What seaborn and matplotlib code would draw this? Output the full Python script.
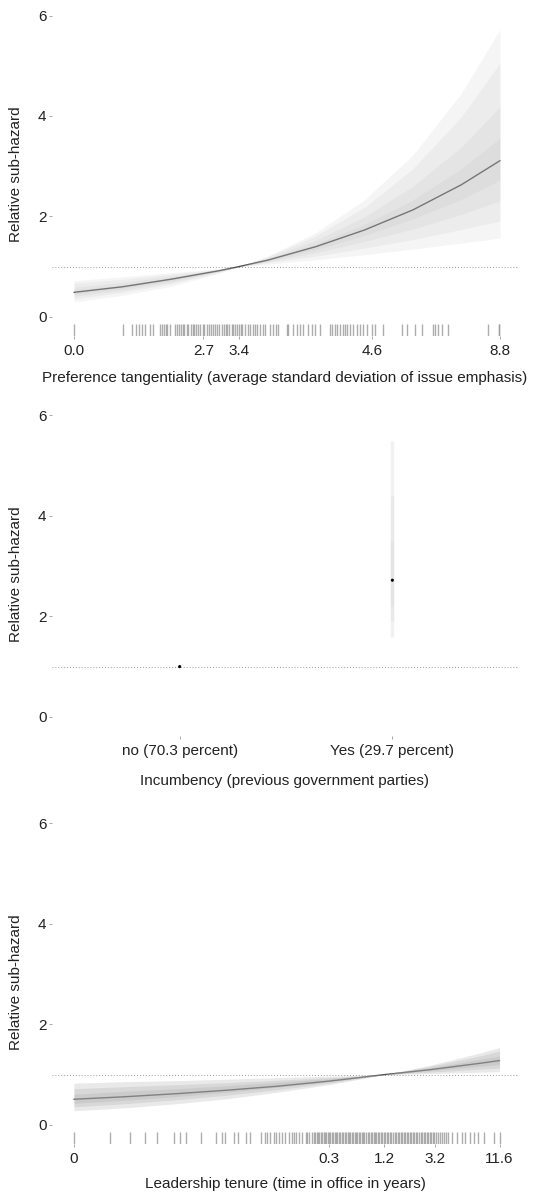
import matplotlib
matplotlib.use("Agg")
import matplotlib.pyplot as plt
import pandas as pd
import seaborn as sns

# ---- panel 1: preference tangentiality ----
tang_x = [0.0, 1.0, 2.0, 3.0, 3.4, 4.0, 5.0, 6.0, 7.0, 8.0, 8.8]
tang_hr = [0.49, 0.60, 0.75, 0.92, 1.0, 1.13, 1.40, 1.73, 2.13, 2.63, 3.11]
# simulation fan, outer to inner: (lower, upper)
tang_bands = [
    ([0.30, 0.43, 0.61, 0.87, 1.0, 1.05, 1.14, 1.24, 1.35, 1.47, 1.57],
     [0.72, 0.80, 0.88, 0.96, 1.0, 1.21, 1.68, 2.33, 3.22, 4.45, 5.72]),
    ([0.36, 0.49, 0.66, 0.89, 1.0, 1.08, 1.21, 1.37, 1.54, 1.74, 1.91],
     [0.67, 0.75, 0.85, 0.95, 1.0, 1.20, 1.62, 2.18, 2.95, 3.98, 5.05]),
    ([0.41, 0.53, 0.69, 0.90, 1.0, 1.10, 1.28, 1.50, 1.75, 2.04, 2.31],
     [0.59, 0.69, 0.81, 0.94, 1.0, 1.17, 1.53, 1.99, 2.60, 3.38, 4.18]),
    ([0.45, 0.57, 0.72, 0.91, 1.0, 1.12, 1.34, 1.62, 1.95, 2.34, 2.72],
     [0.53, 0.64, 0.77, 0.93, 1.0, 1.15, 1.46, 1.84, 2.33, 2.95, 3.56]),
]
tang_rug = [0.0, 1.02, 1.19, 1.28, 1.35, 1.40, 1.47, 1.56, 1.64, 1.78, 1.81,
            1.85, 1.90, 1.93, 1.98, 2.09, 2.12, 2.16, 2.20, 2.25, 2.27, 2.33,
            2.36, 2.41, 2.45, 2.48, 2.52, 2.57, 2.60, 2.66, 2.69, 2.74, 2.78,
            2.82, 2.87, 2.91, 2.95, 3.00, 3.05, 3.10, 3.13, 3.17, 3.21, 3.26,
            3.29, 3.33, 3.36, 3.41, 3.44, 3.48, 3.53, 3.60, 3.64, 3.69, 3.74,
            3.79, 3.84, 3.90, 3.95, 4.05, 4.12, 4.17, 4.22, 4.39, 4.43, 4.53,
            4.60, 4.67, 4.74, 4.84, 4.91, 4.98, 5.08, 5.29, 5.34, 5.39, 5.44,
            5.50, 5.55, 5.60, 5.65, 5.70, 5.77, 5.84, 5.91, 5.98, 6.05, 6.15,
            6.22, 6.39, 6.77, 6.87, 7.05, 7.18, 7.41, 7.46, 7.53, 7.60, 7.73,
            8.56, 8.77, 8.79]
tang_ticks = [0.0, 2.67, 3.41, 6.16, 8.8]
tang_ticklabels = ["0.0", "2.7", "3.4", "4.6", "8.8"]

# ---- panel 2: incumbency ----
incumb_pos = [0, 1]
incumb_labels = ["no (70.3 percent)", "Yes (29.7 percent)"]
incumb_hr = [1.0, 2.72]
incumb_bands = [(1.58, 5.50), (1.90, 4.40), (2.20, 3.50)]  # for "Yes"

# ---- panel 3: leadership tenure (log scale of days in office) ----
tenure_x = [0.0, 1.0, 2.0, 3.0, 4.0, 5.0, 6.09, 7.0, 8.0, 8.35]
tenure_hr = [0.51, 0.56, 0.62, 0.69, 0.77, 0.87, 1.0, 1.10, 1.23, 1.28]
tenure_bands = [
    ([0.28, 0.34, 0.42, 0.52, 0.65, 0.80, 1.0, 1.02, 1.05, 1.06],
     [0.83, 0.86, 0.88, 0.91, 0.94, 0.97, 1.0, 1.19, 1.44, 1.54]),
    ([0.36, 0.42, 0.50, 0.59, 0.70, 0.83, 1.0, 1.05, 1.11, 1.13],
     [0.72, 0.76, 0.80, 0.84, 0.89, 0.94, 1.0, 1.17, 1.38, 1.47]),
    ([0.43, 0.49, 0.56, 0.65, 0.75, 0.86, 1.0, 1.08, 1.17, 1.20],
     [0.61, 0.67, 0.72, 0.78, 0.85, 0.92, 1.0, 1.14, 1.31, 1.37]),
]
tenure_rug = [0.0, 0.70, 1.10, 1.40, 1.62, 1.96, 2.08, 2.20, 2.50, 2.78, 2.90,
              2.96, 3.15, 3.22, 3.38, 3.45, 3.68, 3.74, 3.78, 3.85, 3.92, 3.96,
              4.02, 4.08, 4.15, 4.22, 4.27, 4.32, 4.35, 4.42, 4.48, 4.55, 4.58,
              4.62, 4.68, 4.71, 4.73, 4.76, 4.79, 4.81, 4.84, 4.87, 4.90, 4.92,
              4.95, 4.98, 5.01, 5.03, 5.06, 5.09, 5.12, 5.14, 5.17, 5.20, 5.23,
              5.25, 5.28, 5.31, 5.34, 5.37, 5.40, 5.42, 5.45, 5.48, 5.51, 5.54,
              5.56, 5.59, 5.62, 5.65, 5.68, 5.70, 5.73, 5.76, 5.79, 5.82, 5.85,
              5.88, 5.90, 5.93, 5.96, 5.99, 6.02, 6.05, 6.08, 6.11, 6.14, 6.17,
              6.20, 6.23, 6.26, 6.29, 6.32, 6.35, 6.38, 6.41, 6.44, 6.47, 6.50,
              6.53, 6.56, 6.59, 6.62, 6.65, 6.68, 6.71, 6.74, 6.77, 6.80, 6.83,
              6.86, 6.89, 6.92, 6.95, 6.98, 7.01, 7.04, 7.07, 7.10, 7.14, 7.18,
              7.22, 7.26, 7.30, 7.34, 7.42, 7.52, 7.62, 7.68, 7.78, 7.85, 7.92,
              8.05, 8.25, 8.35]
tenure_ticks = [0.0, 5.01, 6.09, 7.09, 8.35]
tenure_ticklabels = ["0", "0.3", "1.2", "3.2", "11.6"]

YLABEL = "Relative sub-hazard"
TXT = "#222222"
FS = 11


def style_axis(ax, xlim):
    ax.set_xlim(*xlim)
    ax.set_ylim(-0.38, 6.05)
    ax.set_yticks([0, 2, 4, 6])
    for s in ax.spines.values():
        s.set_visible(False)
    ax.tick_params(axis="both", bottom=True, left=True, length=2, width=0.6,
                   color="#999999", labelsize=FS, labelcolor=TXT)
    ax.tick_params(axis="x", pad=4)
    ax.tick_params(axis="y", pad=2)
    ax.axhline(1, color="#999999", lw=0.7, ls=(0, (1, 2)), zorder=1)
    ax.set_ylabel(YLABEL, fontsize=FS, color=TXT)
    ax.yaxis.set_label_coords(-0.062, 0.5)
    ax.grid(False)


def main():
    sns.set_theme(style="white")
    plt.rcParams["font.family"] = ["Liberation Sans", "DejaVu Sans"]

    fig = plt.figure(figsize=(5.33, 11.92), dpi=100)
    left, width, height = 0.0976, 0.874, 0.271
    ax1 = fig.add_axes([left, 0.7181, width, height])
    ax2 = fig.add_axes([left, 0.3826, width, height])
    ax3 = fig.add_axes([left, 0.0403, width, height])

    # panel 1
    df1 = pd.DataFrame({"x": tang_x, "hr": tang_hr})
    sns.lineplot(data=df1, x="x", y="hr", ax=ax1, color="#4a4a4a", lw=1.0, zorder=2)
    for lo, hi in tang_bands:
        ax1.fill_between(tang_x, lo, hi, color="#b4b4b4", alpha=0.13, lw=0, zorder=3)
    sns.rugplot(x=tang_rug, ax=ax1, height=0.036, color="#999999", lw=0.6,
                alpha=0.8, expand_margins=False)
    style_axis(ax1, (-0.455, 9.17))
    ax1.set_xticks(tang_ticks)
    ax1.set_xticklabels(tang_ticklabels)
    ax1.set_xlabel("Preference tangentiality (average standard deviation of issue emphasis)",
                   fontsize=FS, color=TXT, labelpad=9)

    # panel 2
    for lo, hi in incumb_bands:
        ax2.vlines(incumb_pos[1], lo, hi, color="#dddddd", alpha=0.4, lw=2.4, zorder=2)
    df2 = pd.DataFrame({"x": incumb_pos, "hr": incumb_hr})
    sns.scatterplot(data=df2, x="x", y="hr", ax=ax2, color="black", s=5,
                    edgecolor="none", zorder=4)
    style_axis(ax2, (-0.60, 1.59))
    ax2.set_xticks(incumb_pos)
    ax2.set_xticklabels(incumb_labels)
    ax2.set_xlabel("Incumbency (previous government parties)",
                   fontsize=FS, color=TXT, labelpad=11)

    # panel 3
    df3 = pd.DataFrame({"x": tenure_x, "hr": tenure_hr})
    sns.lineplot(data=df3, x="x", y="hr", ax=ax3, color="#555555", lw=1.0, zorder=2)
    for lo, hi in tenure_bands:
        ax3.fill_between(tenure_x, lo, hi, color="#a4a4a4", alpha=0.24, lw=0, zorder=3)
    sns.rugplot(x=tenure_rug, ax=ax3, height=0.036, color="#999999", lw=0.6,
                alpha=0.8, expand_margins=False)
    style_axis(ax3, (-0.43, 8.71))
    ax3.set_xticks(tenure_ticks)
    ax3.set_xticklabels(tenure_ticklabels)
    ax3.set_xlabel("Leadership tenure (time in office in years)",
                   fontsize=FS, color=TXT, labelpad=8)

    fig.savefig("out.png", dpi=100)


if __name__ == "__main__":
    main()
